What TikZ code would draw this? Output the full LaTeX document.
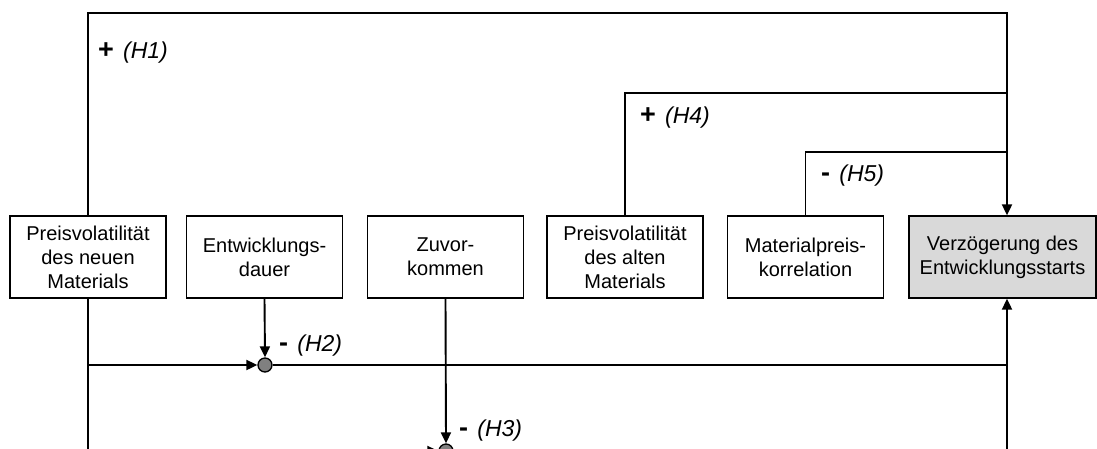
\documentclass[tikz,border=0pt]{standalone}
\usepackage{fontspec}
\setmainfont{Liberation Sans}
\usetikzlibrary{arrows.meta}
\definecolor{boxgray}{RGB}{217,217,217}
\definecolor{knotgray}{RGB}{128,128,128}
\newcommand{\signsym}[1]{{\fontsize{27}{27}\selectfont\bfseries #1}}
\begin{document}
\begin{tikzpicture}[x=1pt,y=-1pt,
  box/.style={draw, line width=1.3pt, minimum width=156pt, minimum height=82pt,
    inner sep=0pt, align=center, font=\fontsize{20}{24}\selectfont},
  link/.style={line width=1.9pt},
  tip/.style={-{Triangle[length=11pt,width=10pt]}},
  knot/.style={circle, draw, line width=1.3pt, fill=knotgray, minimum size=14pt, inner sep=0pt},
  hyp/.style={font=\fontsize{23}{27}\selectfont, inner sep=0pt, anchor=west}]
\useasboundingbox (0,0) rectangle (1097,448);
\clip (0,0) rectangle (1097,448);

% factor boxes
\node[box] (b1) at (88,257)    {Preisvolatilität\\des neuen\\Materials};
\node[box] (b2) at (264.5,257) {Entwicklungs-\\dauer};
\node[box] (b3) at (445.5,257) {Zuvor-\\kommen};
\node[box] (b4) at (625,257)   {Preisvolatilität\\des alten\\Materials};
\node[box] (b5) at (805.5,257) {Materialpreis-\\korrelation};
\node[box, fill=boxgray, minimum width=187pt] (b6) at (1002.5,257) {Verzögerung des\\Entwicklungsstarts};

% moderation points
\node[knot] (c2) at (265,365) {};
\node[knot] (c3) at (446,451) {};

% right-hand collecting line
\coordinate (rx) at (1007,0);
\coordinate (h1) at (88,13);
\coordinate (h4) at (626,93);
\coordinate (h5) at (806,152);
\coordinate (m2) at (88,365);
\coordinate (m3) at (88,451);

% direct effects from above
\draw[link, tip] (b1.north) |- (rx |- h1) -- (rx |- b6.north);
\draw[link] (b4.north) |- (rx |- h4);
\draw[link] (b5.north) |- (rx |- h5);

% moderated effects from below
\draw[link] (b1.south) -- (m3);
\draw[link, tip] (m2) -- (c2.west);
\draw[link, tip] (m3) -- (c3.west);
\draw[link, tip] (b2.south) -- (c2.north);
\draw[link, tip] (b3.south) -- (c3.north);
\draw[link] (c2.east) -- (rx |- c2);
\draw[link, tip] (c3.east) -| (rx |- b6.south);

% hypothesis labels
\node[hyp] (l1) at (98,53)  {\signsym{+}\hspace{0.4em}\textit{(H1)}};
\node[hyp] (l4) at (640,118) {\signsym{+}\hspace{0.4em}\textit{(H4)}};
\node[hyp] (l5) at (821,176) {\signsym{-}\hspace{0.4em}\textit{(H5)}};
\node[hyp] (l2) at (279,346) {\signsym{-}\hspace{0.4em}\textit{(H2)}};
\node[hyp] (l3) at (459,431) {\signsym{-}\hspace{0.4em}\textit{(H3)}};
\end{tikzpicture}
\end{document}
